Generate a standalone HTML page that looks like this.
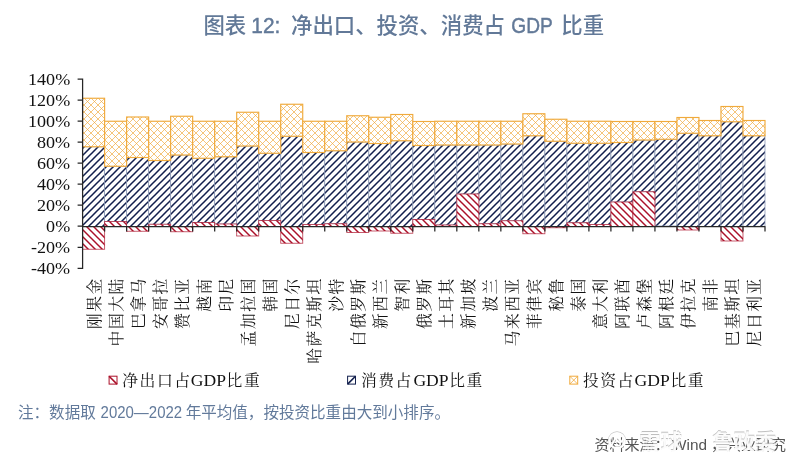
<!DOCTYPE html>
<html lang="zh-CN"><head><meta charset="utf-8"><title>图表 12</title>
<style>
html,body{margin:0;padding:0;background:#fff;}
body{width:800px;height:464px;overflow:hidden;position:relative;font-family:"Liberation Sans","Noto Sans CJK SC",sans-serif;}
svg{position:absolute;left:0;top:0;display:block}
.ttl{font-family:"Liberation Sans","Noto Sans CJK SC",sans-serif;font-weight:500;font-size:21.4px;fill:#627998}
.ttll{font-family:"Liberation Sans","Noto Sans CJK SC",sans-serif;font-weight:400;font-size:22px;fill:#627998;stroke:#627998;stroke-width:.45}
.note{font-family:"Liberation Sans","Noto Sans CJK SC",sans-serif;font-size:15.55px;fill:#627a9b}
.notel{font-family:"Liberation Sans","Noto Sans CJK SC",sans-serif;font-size:15.8px;fill:#627a9b}
.yl{font-family:"Liberation Serif","Noto Serif CJK SC",serif;font-size:16.6px;fill:#111}
.cat{font-family:"Liberation Serif","Noto Serif CJK SC",serif;font-size:15.8px;letter-spacing:1.5px;fill:#111}
.leg{font-family:"Liberation Serif","Noto Serif CJK SC",serif;font-size:15.8px;letter-spacing:1.5px;fill:#111}
.legl{font-family:"Liberation Serif","Noto Serif CJK SC",serif;font-size:16.6px;fill:#111}
.src{font-family:"Liberation Sans","Noto Sans CJK SC",sans-serif;font-size:15px;fill:#555}
.wm{font-family:"Liberation Sans","Noto Sans CJK SC",sans-serif;font-size:21.5px;font-weight:700;fill:#fff;fill-opacity:.93}
.wms{font-family:"Liberation Sans","Noto Sans CJK SC",sans-serif;font-size:21.5px;font-weight:700;fill:#8a8a8a;fill-opacity:.55}
</style></head><body>
<svg width="800" height="464" viewBox="0 0 800 464">
<defs>
<pattern id="pn" patternUnits="userSpaceOnUse" width="7.00" height="7.00"><rect width="7.00" height="7.00" fill="#fff"/><path d="M-1,1 L1,-1 M-1,8.00 L8.00,-1 M6.00,8.00 L8.00,6.00" stroke="#121f4d" stroke-width="1.52"/></pattern>
<pattern id="pr" patternUnits="userSpaceOnUse" width="7.00" height="7.00"><rect width="7.00" height="7.00" fill="#fff"/><path d="M-1,6.00 L1,8.00 M-1,-1 L8.00,8.00 M6.00,-1 L8.00,1" stroke="#ab1029" stroke-width="1.45"/></pattern>
<pattern id="po" patternUnits="userSpaceOnUse" width="7.00" height="7.00"><rect width="7.00" height="7.00" fill="#fff"/><path d="M-1,1 L1,-1 M-1,8.00 L8.00,-1 M6.00,8.00 L8.00,6.00 M-1,6.00 L1,8.00 M-1,-1 L8.00,8.00 M6.00,-1 L8.00,1" stroke="#f0aa3c" stroke-width="0.68"/></pattern>
</defs>

<text class="ttl" x="203.4" y="33">图表</text>
<text class="ttll" x="251.3" y="33" textLength="29" lengthAdjust="spacingAndGlyphs">12:</text>
<text class="ttl" x="291" y="33">净出口、投资、消费占</text>
<text class="ttll" x="511.3" y="33" textLength="41.5" lengthAdjust="spacingAndGlyphs">GDP</text>
<text class="ttl" x="561.3" y="33">比重</text>
<g fill="url(#pn)" stroke="#8a97b3" stroke-width="0.8"><rect x="82.60" y="146.75" width="22.01" height="79.75"/><rect x="104.61" y="166.25" width="22.01" height="55.25"/><rect x="126.63" y="157.50" width="22.01" height="69.00"/><rect x="148.64" y="160.50" width="22.01" height="63.75"/><rect x="170.65" y="155.00" width="22.01" height="71.50"/><rect x="192.66" y="158.25" width="22.01" height="64.25"/><rect x="214.68" y="156.75" width="22.01" height="67.25"/><rect x="236.69" y="146.00" width="22.01" height="80.50"/><rect x="258.70" y="153.25" width="22.01" height="67.25"/><rect x="280.72" y="136.25" width="22.01" height="90.25"/><rect x="302.73" y="152.50" width="22.01" height="72.00"/><rect x="324.74" y="150.75" width="22.01" height="73.00"/><rect x="346.75" y="142.00" width="22.01" height="84.50"/><rect x="368.77" y="143.50" width="22.01" height="83.00"/><rect x="390.78" y="140.75" width="22.01" height="85.75"/><rect x="412.79" y="145.50" width="22.01" height="74.00"/><rect x="434.81" y="145.00" width="22.01" height="80.00"/><rect x="456.82" y="145.00" width="22.01" height="49.00"/><rect x="478.83" y="145.00" width="22.01" height="78.75"/><rect x="500.85" y="144.00" width="22.01" height="76.75"/><rect x="522.86" y="135.75" width="22.01" height="90.75"/><rect x="544.87" y="141.25" width="22.01" height="85.25"/><rect x="566.88" y="143.25" width="22.01" height="79.50"/><rect x="588.90" y="143.25" width="22.01" height="81.25"/><rect x="610.91" y="142.50" width="22.01" height="59.50"/><rect x="632.92" y="140.00" width="22.01" height="51.75"/><rect x="654.94" y="139.25" width="22.01" height="86.75"/><rect x="676.95" y="133.25" width="22.01" height="93.25"/><rect x="698.96" y="135.75" width="22.01" height="90.75"/><rect x="720.97" y="121.75" width="22.01" height="104.75"/><rect x="742.99" y="135.75" width="22.01" height="90.55"/></g>
<g fill="url(#pr)" stroke="#ab1029" stroke-opacity=".75" stroke-width="0.9"><rect x="82.60" y="226.50" width="22.01" height="22.75"/><rect x="104.61" y="221.50" width="22.01" height="5.00"/><rect x="126.63" y="226.50" width="22.01" height="4.75"/><rect x="148.64" y="224.25" width="22.01" height="2.25"/><rect x="170.65" y="226.50" width="22.01" height="5.25"/><rect x="192.66" y="222.50" width="22.01" height="4.00"/><rect x="214.68" y="224.00" width="22.01" height="2.50"/><rect x="236.69" y="226.50" width="22.01" height="9.50"/><rect x="258.70" y="220.50" width="22.01" height="6.00"/><rect x="280.72" y="226.50" width="22.01" height="16.75"/><rect x="302.73" y="224.50" width="22.01" height="2.00"/><rect x="324.74" y="223.75" width="22.01" height="2.75"/><rect x="346.75" y="226.50" width="22.01" height="6.00"/><rect x="368.77" y="226.50" width="22.01" height="4.50"/><rect x="390.78" y="226.50" width="22.01" height="6.75"/><rect x="412.79" y="219.50" width="22.01" height="7.00"/><rect x="434.81" y="225.00" width="22.01" height="1.50"/><rect x="456.82" y="194.00" width="22.01" height="32.50"/><rect x="478.83" y="223.75" width="22.01" height="2.75"/><rect x="500.85" y="220.75" width="22.01" height="5.75"/><rect x="522.86" y="226.50" width="22.01" height="7.25"/><rect x="544.87" y="226.50" width="22.01" height="1.25"/><rect x="566.88" y="222.75" width="22.01" height="3.75"/><rect x="588.90" y="224.50" width="22.01" height="2.00"/><rect x="610.91" y="202.00" width="22.01" height="24.50"/><rect x="632.92" y="191.75" width="22.01" height="34.75"/><rect x="676.95" y="226.50" width="22.01" height="3.50"/><rect x="720.97" y="226.50" width="22.01" height="14.50"/></g>
<g fill="url(#po)" stroke="#f0aa3c" stroke-width="1.15"><rect x="82.60" y="98.25" width="22.01" height="48.50"/><rect x="104.61" y="121.25" width="22.01" height="45.00"/><rect x="126.63" y="117.00" width="22.01" height="40.50"/><rect x="148.64" y="121.25" width="22.01" height="39.25"/><rect x="170.65" y="116.25" width="22.01" height="38.75"/><rect x="192.66" y="121.25" width="22.01" height="37.00"/><rect x="214.68" y="121.25" width="22.01" height="35.50"/><rect x="236.69" y="112.25" width="22.01" height="33.75"/><rect x="258.70" y="121.25" width="22.01" height="32.00"/><rect x="280.72" y="104.25" width="22.01" height="32.00"/><rect x="302.73" y="121.25" width="22.01" height="31.25"/><rect x="324.74" y="121.25" width="22.01" height="29.50"/><rect x="346.75" y="115.75" width="22.01" height="26.25"/><rect x="368.77" y="117.25" width="22.01" height="26.25"/><rect x="390.78" y="114.50" width="22.01" height="26.25"/><rect x="412.79" y="121.50" width="22.01" height="24.00"/><rect x="434.81" y="121.25" width="22.01" height="23.75"/><rect x="456.82" y="121.25" width="22.01" height="23.75"/><rect x="478.83" y="121.25" width="22.01" height="23.75"/><rect x="500.85" y="121.25" width="22.01" height="22.75"/><rect x="522.86" y="113.75" width="22.01" height="22.00"/><rect x="544.87" y="119.25" width="22.01" height="22.00"/><rect x="566.88" y="121.25" width="22.01" height="22.00"/><rect x="588.90" y="121.25" width="22.01" height="22.00"/><rect x="610.91" y="121.50" width="22.01" height="21.00"/><rect x="632.92" y="121.50" width="22.01" height="18.50"/><rect x="654.94" y="121.50" width="22.01" height="17.75"/><rect x="676.95" y="117.50" width="22.01" height="15.75"/><rect x="698.96" y="120.50" width="22.01" height="15.25"/><rect x="720.97" y="106.50" width="22.01" height="15.25"/><rect x="742.99" y="120.50" width="22.01" height="15.25"/></g>
<path d="M82.60,78.40 V268.90 M77.6,79.00 H82.60 M77.6,100.03 H82.60 M77.6,121.07 H82.60 M77.6,142.10 H82.60 M77.6,163.13 H82.60 M77.6,184.17 H82.60 M77.6,205.20 H82.60 M77.6,226.23 H82.60 M77.6,247.27 H82.60 M77.6,268.30 H82.60 M82.60,226.5 H765.4 M82.60,226.5 V231.4 M104.61,226.5 V231.4 M126.63,226.5 V231.4 M148.64,226.5 V231.4 M170.65,226.5 V231.4 M192.66,226.5 V231.4 M214.68,226.5 V231.4 M236.69,226.5 V231.4 M258.70,226.5 V231.4 M280.72,226.5 V231.4 M302.73,226.5 V231.4 M324.74,226.5 V231.4 M346.75,226.5 V231.4 M368.77,226.5 V231.4 M390.78,226.5 V231.4 M412.79,226.5 V231.4 M434.81,226.5 V231.4 M456.82,226.5 V231.4 M478.83,226.5 V231.4 M500.85,226.5 V231.4 M522.86,226.5 V231.4 M544.87,226.5 V231.4 M566.88,226.5 V231.4 M588.90,226.5 V231.4 M610.91,226.5 V231.4 M632.92,226.5 V231.4 M654.94,226.5 V231.4 M676.95,226.5 V231.4 M698.96,226.5 V231.4 M720.97,226.5 V231.4 M742.99,226.5 V231.4 M765.00,226.5 V231.4" stroke="#262626" stroke-width="1.25" fill="none"/>
<text class="yl" text-anchor="end" transform="translate(70.2,84.70) scale(1.09,1)">140%</text>
<text class="yl" text-anchor="end" transform="translate(70.2,105.73) scale(1.09,1)">120%</text>
<text class="yl" text-anchor="end" transform="translate(70.2,126.77) scale(1.09,1)">100%</text>
<text class="yl" text-anchor="end" transform="translate(70.2,147.80) scale(1.09,1)">80%</text>
<text class="yl" text-anchor="end" transform="translate(70.2,168.83) scale(1.09,1)">60%</text>
<text class="yl" text-anchor="end" transform="translate(70.2,189.87) scale(1.09,1)">40%</text>
<text class="yl" text-anchor="end" transform="translate(70.2,210.90) scale(1.09,1)">20%</text>
<text class="yl" text-anchor="end" transform="translate(70.2,231.93) scale(1.09,1)">0%</text>
<text class="yl" text-anchor="end" transform="translate(70.2,252.97) scale(1.09,1)">-20%</text>
<text class="yl" text-anchor="end" transform="translate(70.2,274.00) scale(1.09,1)">-40%</text>
<text class="cat" text-anchor="end" transform="translate(94.21,277.2) rotate(-90)" dy="0.36em">刚果金</text>
<text class="cat" text-anchor="end" transform="translate(116.22,277.2) rotate(-90)" dy="0.36em">中国大陆</text>
<text class="cat" text-anchor="end" transform="translate(138.23,277.2) rotate(-90)" dy="0.36em">巴拿马</text>
<text class="cat" text-anchor="end" transform="translate(160.25,277.2) rotate(-90)" dy="0.36em">安哥拉</text>
<text class="cat" text-anchor="end" transform="translate(182.26,277.2) rotate(-90)" dy="0.36em">赞比亚</text>
<text class="cat" text-anchor="end" transform="translate(204.27,277.2) rotate(-90)" dy="0.36em">越南</text>
<text class="cat" text-anchor="end" transform="translate(226.28,277.2) rotate(-90)" dy="0.36em">印尼</text>
<text class="cat" text-anchor="end" transform="translate(248.30,277.2) rotate(-90)" dy="0.36em">孟加拉国</text>
<text class="cat" text-anchor="end" transform="translate(270.31,277.2) rotate(-90)" dy="0.36em">韩国</text>
<text class="cat" text-anchor="end" transform="translate(292.32,277.2) rotate(-90)" dy="0.36em">尼日尔</text>
<text class="cat" text-anchor="end" transform="translate(314.34,277.2) rotate(-90)" dy="0.36em">哈萨克斯坦</text>
<text class="cat" text-anchor="end" transform="translate(336.35,277.2) rotate(-90)" dy="0.36em">沙特</text>
<text class="cat" text-anchor="end" transform="translate(358.36,277.2) rotate(-90)" dy="0.36em">白俄罗斯</text>
<text class="cat" text-anchor="end" transform="translate(380.37,277.2) rotate(-90)" dy="0.36em">新西兰</text>
<text class="cat" text-anchor="end" transform="translate(402.39,277.2) rotate(-90)" dy="0.36em">智利</text>
<text class="cat" text-anchor="end" transform="translate(424.40,277.2) rotate(-90)" dy="0.36em">俄罗斯</text>
<text class="cat" text-anchor="end" transform="translate(446.41,277.2) rotate(-90)" dy="0.36em">土耳其</text>
<text class="cat" text-anchor="end" transform="translate(468.43,277.2) rotate(-90)" dy="0.36em">新加坡</text>
<text class="cat" text-anchor="end" transform="translate(490.44,277.2) rotate(-90)" dy="0.36em">波兰</text>
<text class="cat" text-anchor="end" transform="translate(512.45,277.2) rotate(-90)" dy="0.36em">马来西亚</text>
<text class="cat" text-anchor="end" transform="translate(534.46,277.2) rotate(-90)" dy="0.36em">菲律宾</text>
<text class="cat" text-anchor="end" transform="translate(556.48,277.2) rotate(-90)" dy="0.36em">秘鲁</text>
<text class="cat" text-anchor="end" transform="translate(578.49,277.2) rotate(-90)" dy="0.36em">泰国</text>
<text class="cat" text-anchor="end" transform="translate(600.50,277.2) rotate(-90)" dy="0.36em">意大利</text>
<text class="cat" text-anchor="end" transform="translate(622.52,277.2) rotate(-90)" dy="0.36em">阿联酋</text>
<text class="cat" text-anchor="end" transform="translate(644.53,277.2) rotate(-90)" dy="0.36em">卢森堡</text>
<text class="cat" text-anchor="end" transform="translate(666.54,277.2) rotate(-90)" dy="0.36em">阿根廷</text>
<text class="cat" text-anchor="end" transform="translate(688.55,277.2) rotate(-90)" dy="0.36em">伊拉克</text>
<text class="cat" text-anchor="end" transform="translate(710.57,277.2) rotate(-90)" dy="0.36em">南非</text>
<text class="cat" text-anchor="end" transform="translate(732.58,277.2) rotate(-90)" dy="0.36em">巴基斯坦</text>
<text class="cat" text-anchor="end" transform="translate(754.59,277.2) rotate(-90)" dy="0.36em">尼日利亚</text>
<rect x="109.1" y="376.2" width="7.9" height="7.9" fill="#fff" stroke="#ab1029" stroke-width="1"/>
<path d="M109.1,376.2 l7.9,7.9" stroke="#ab1029" stroke-width="1.6"/>
<text class="leg" x="122.3" y="386">净出口占</text>
<text class="legl" transform="translate(190.8,386) scale(1.06,1)">GDP</text>
<text class="leg" x="226.6" y="386">比重</text>
<rect x="347.6" y="376.2" width="7.9" height="7.9" fill="#fff" stroke="#121f4d" stroke-width="1"/>
<path d="M347.6,384.1 l7.9,-7.9" stroke="#121f4d" stroke-width="1.6"/>
<text class="leg" x="361.0" y="386">消费占</text>
<text class="legl" transform="translate(413.4,386) scale(1.06,1)">GDP</text>
<text class="leg" x="449.2" y="386">比重</text>
<rect x="569.8" y="376.2" width="7.9" height="7.9" fill="#fff" stroke="#f0aa3c" stroke-width="1"/>
<path d="M569.8,376.2 l7.9,7.9 M569.8,384.1 l7.9,-7.9" stroke="#f0aa3c" stroke-width="0.8"/>
<text class="leg" x="583.0" y="386">投资占</text>
<text class="legl" transform="translate(634.6,386) scale(1.06,1)">GDP</text>
<text class="leg" x="670.4" y="386">比重</text>
<text class="note" x="18" y="417.6">注：数据取</text>
<text class="notel" x="100.6" y="417.6" textLength="81.5" lengthAdjust="spacingAndGlyphs">2020—2022</text>
<text class="note" x="185.7" y="417.6">年平均值，按投资比重由大到小排序。</text>
<text class="src" x="594.5" y="449.6">资料来源：</text>
<text class="src" x="672" y="449.6" textLength="35" lengthAdjust="spacingAndGlyphs">Wind</text>
<text class="src" x="711" y="449.6">，兴业研究</text>
<g><circle cx="617" cy="440" r="7.6" fill="none" stroke="#999" stroke-opacity=".55" stroke-width="2.4"/><circle cx="617" cy="440.6" r="7.6" fill="none" stroke="#fff" stroke-width="2.2"/><path d="M611,446 L617,436 L621,442 L624,438" fill="none" stroke="#fff" stroke-width="1.8"/>
<text class="wms" x="639" y="449.2">雪球</text><text class="wms" x="712" y="449.2">鲁政委</text>
<text class="wm" x="639" y="450">雪球</text><text class="wm" x="712" y="450">鲁政委</text></g>
</svg>
</body></html>
